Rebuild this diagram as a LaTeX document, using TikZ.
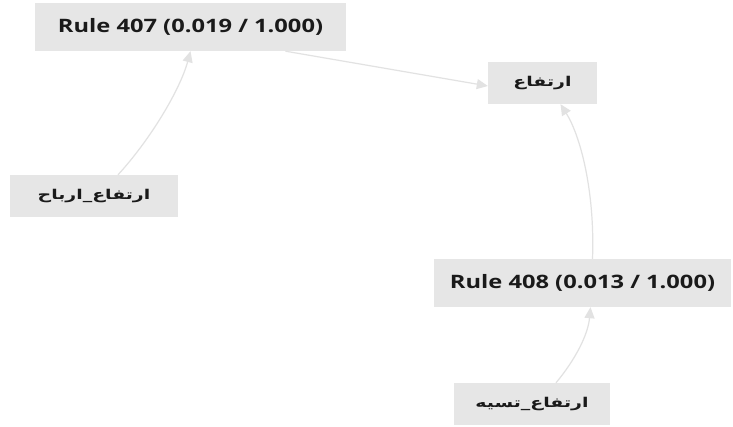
\documentclass[tikz,border=0pt]{standalone}
\usepackage{fontspec}
\setmainfont{Open Sans}
\newfontfamily\rulefont[FakeStretch=1.28]{Open Sans}
\newfontfamily\arabicfont[Script=Arabic,FakeStretch=1.4]{DejaVu Sans}
\TeXXeTstate=1
\usetikzlibrary{arrows.meta}
\definecolor{boxfill}{HTML}{E6E6E6}
\definecolor{edgecol}{HTML}{E2E2E2}
\definecolor{txt}{HTML}{1A1A1A}
\tikzset{
  box/.style={fill=boxfill, draw=none, inner sep=0pt, text=txt},
  rulebox/.style={box, font=\rulefont\fontsize{18.5}{20}\selectfont\bfseries},
  arbox/.style={box, font=\arabicfont\fontsize{13.5}{15}\selectfont\bfseries},
  conn/.style={draw=edgecol, line width=1.2pt, -{Triangle[length=11pt,width=10pt]}}
}
\begin{document}
\begin{tikzpicture}[x=1pt,y=-1pt]
\useasboundingbox (0,0) rectangle (733,427);
\fill[white] (0,0) rectangle (733,427);
\node[rulebox, minimum width=311pt, minimum height=48pt] (r407) at (190.5,27) {Rule 407 (0.019 / 1.000)};
\node[arbox, minimum width=109pt, minimum height=42pt] (irt) at (542.5,83) {\beginR ارتفاع\endR};
\node[arbox, minimum width=168pt, minimum height=42pt] (arb) at (94,196) {\beginR ارتفاع\_ارباح\endR};
\node[rulebox, minimum width=297pt, minimum height=48pt] (r408) at (582.5,283) {Rule 408 (0.013 / 1.000)};
\node[arbox, minimum width=156pt, minimum height=42pt] (tas) at (532,404) {\beginR ارتفاع\_تسيه\endR};
\draw[conn] ([xshift=24pt]arb.north) .. controls (150,140) and (180,90) .. ([xshift=0pt]r407.south);
\draw[conn] ([xshift=95pt]r407.south) -- ([yshift=-3pt]irt.west);
\draw[conn] ([xshift=10pt]r408.north) .. controls (595,190) and (580,135) .. ([xshift=18pt]irt.south);
\draw[conn] ([xshift=24pt]tas.north) .. controls (575,360) and (588,335) .. ([xshift=8pt]r408.south);
\end{tikzpicture}
\end{document}
